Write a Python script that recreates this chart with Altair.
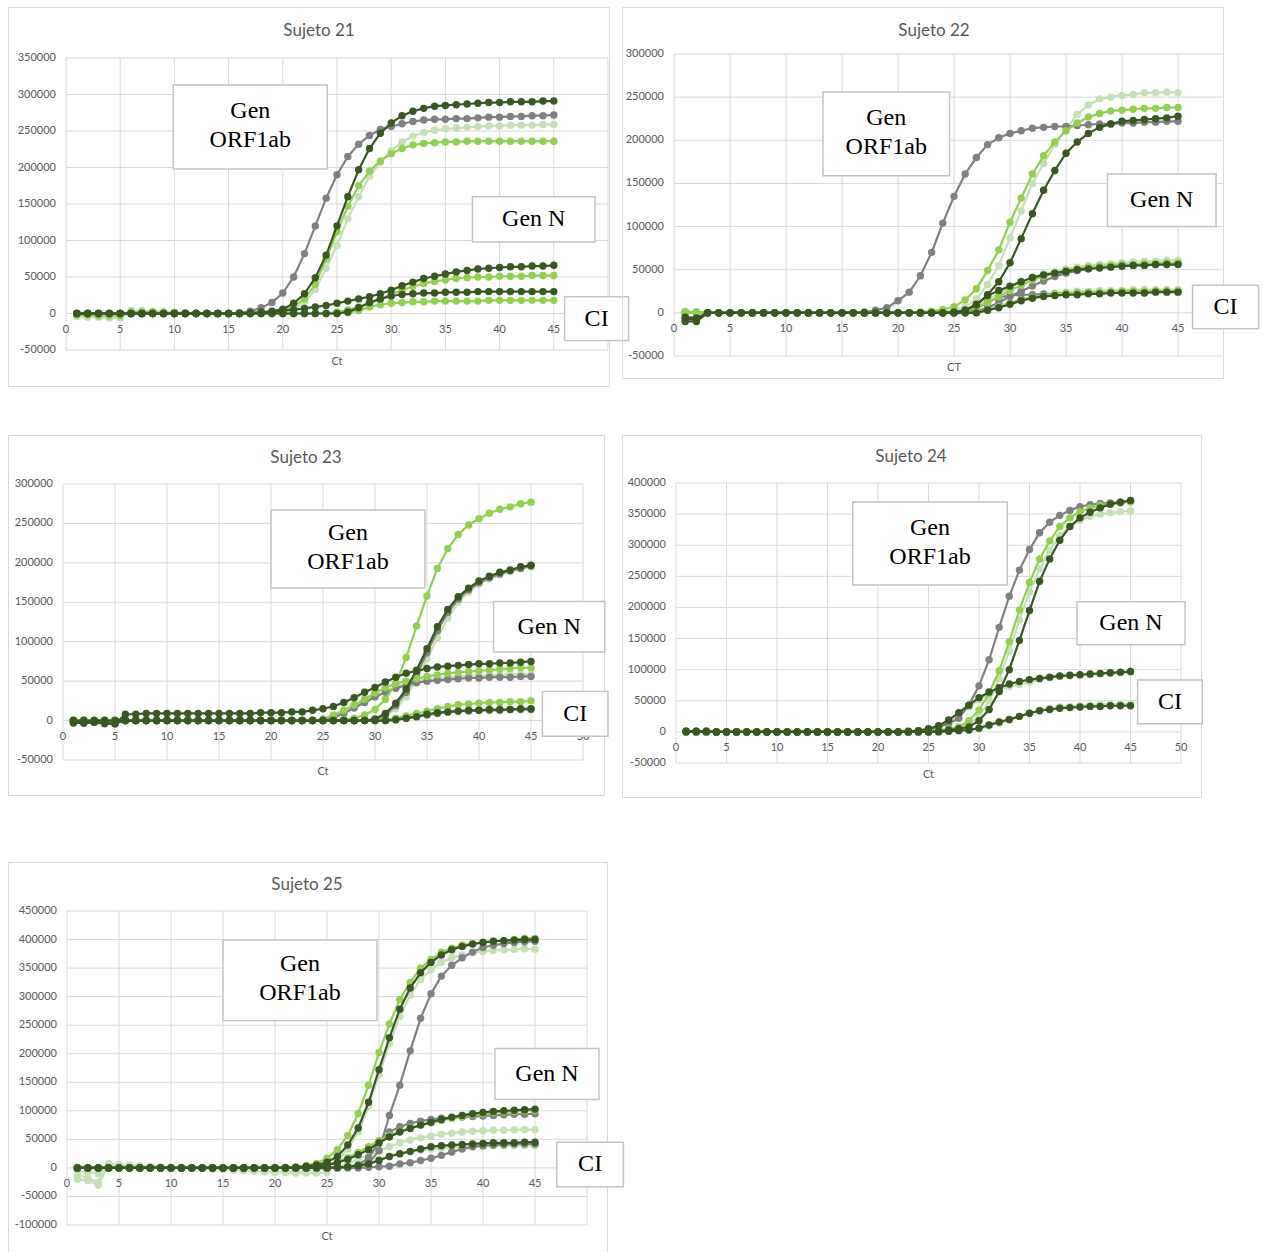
import altair as alt
import pandas as pd

# qPCR amplification curves: fluorescence (thousands of units) per cycle, 1..45
CYCLES = list(range(1, 46))

TONES = ["pale", "gray", "medium", "dark"]
TONE_COLORS = {"pale": "#c5e0b4", "gray": "#808080", "medium": "#92d050", "dark": "#385723"}

# ---------------- Sujeto 21 ----------------
S21_ORF_PALE = [-4, -5, -5, -6, -6, 4, 4, 3, 3, 2, 1, 1, 0, 0, 0,
                0, 0, 0, 0, 2, 7, 15, 33, 62, 93, 130, 160, 188, 207, 223,
                235, 243, 248, 251, 253, 254, 255, 256, 257, 257, 258, 258, 258, 259, 259]
S21_ORF_GRAY = [0, 0, 0, 0, 0, 0, 0, 0, 0, 0, 0, 0, 0, 0, 0,
                1, 3, 8, 15, 28, 50, 82, 120, 158, 190, 215, 232, 244, 252, 256,
                260, 263, 265, 266, 266, 267, 267, 268, 269, 269, 270, 270, 271, 271, 272]
S21_ORF_MED = [-2, -2, -3, -3, -3, 2, 2, 2, 1, 1, 0, 0, 0, 0, 0,
               0, 0, 0, 1, 4, 10, 20, 40, 75, 112, 147, 175, 195, 209, 219,
               226, 231, 233, 234, 235, 235, 236, 236, 236, 236, 236, 236, 236, 236, 236]
S21_ORF_DARK = [0, 0, 0, 0, 0, 0, 0, 0, 0, 0, 0, 0, 0, 0, 0,
                0, 1, 2, 3, 6, 14, 27, 49, 80, 120, 160, 197, 226, 247, 261,
                271, 277, 281, 284, 285, 286, 287, 288, 289, 289, 290, 290, 290, 291, 291]
S21_N_MED = [0, 0, 0, 0, 0, 0, 0, 0, 0, 0, 0, 0, 0, 0, 0,
             0, 0, 0, 0, 0, 0, 0, 0, 0, 2, 5, 9, 14, 20, 26,
             32, 37, 41, 44, 46, 48, 49, 50, 50, 51, 51, 51, 52, 52, 52]
S21_N_DARK = [0, 0, 0, 0, 0, 0, 0, 0, 0, 0, 0, 0, 0, 0, 0,
              0, 0, 1, 2, 4, 5, 7, 9, 11, 14, 17, 20, 23, 27, 32,
              38, 43, 48, 51, 54, 57, 59, 61, 62, 63, 64, 64, 65, 65, 66]
S21_CI_MED = [0, 0, 0, 0, 0, 0, 0, 0, 0, 0, 0, 0, 0, 0, 0,
              0, 0, 0, 0, 0, 0, 0, 0, 0, 0, 1, 4, 9, 12, 14,
              15, 16, 16, 17, 17, 17, 17, 17, 18, 18, 18, 18, 18, 18, 18]
S21_CI_DARK = [0, 0, 0, 0, 0, 0, 0, 0, 0, 0, 0, 0, 0, 0, 0,
               0, 0, 0, 0, 0, 0, 0, 0, 0, 0, 2, 8, 15, 20, 24,
               26, 27, 28, 28, 29, 29, 29, 30, 30, 30, 30, 30, 30, 30, 30]

# ---------------- Sujeto 22 ----------------
S22_ORF_PALE = [2, 1, 0, 0, 0, 0, 0, 0, 0, 0, 0, 0, 0, 0, 0,
                0, 0, 0, 0, 0, 0, 0, 0, 2, 3, 7, 16, 33, 55, 87,
                118, 150, 173, 195, 213, 230, 241, 248, 250, 252, 253, 255, 255, 256, 255]
S22_ORF_GRAY = [0, 0, 0, 0, 0, 0, 0, 0, 0, 0, 0, 0, 0, 0, 0,
                0, 1, 3, 6, 14, 24, 43, 70, 104, 135, 161, 180, 195, 203, 208,
                211, 214, 215, 216, 216, 217, 218, 219, 219, 220, 220, 221, 221, 222, 222]
S22_ORF_MED = [1, 1, 0, 0, 0, 0, 0, 0, 0, 0, 0, 0, 0, 0, 0,
               0, 0, 0, 0, 0, 0, 1, 2, 4, 7, 15, 28, 49, 73, 105,
               133, 161, 182, 198, 211, 220, 227, 231, 234, 235, 236, 237, 237, 238, 238]
S22_ORF_DARK = [-10, -10, 0, 0, 0, 0, 0, 0, 0, 0, 0, 0, 0, 0, 0,
                0, 0, 0, 0, 0, 0, 0, 0, 0, 1, 3, 9, 21, 36, 58,
                86, 115, 142, 165, 185, 198, 208, 215, 219, 222, 223, 224, 225, 226, 228]
S22_N_PALE = [1, 1, 0, 0, 0, 0, 0, 0, 0, 0, 0, 0, 0, 0, 0,
              0, 0, 0, 0, 0, 0, 0, 0, 0, 1, 3, 8, 15, 22, 30,
              36, 41, 45, 48, 51, 53, 55, 56, 57, 58, 59, 60, 60, 61, 61]
S22_N_GRAY = [0, 0, 0, 0, 0, 0, 0, 0, 0, 0, 0, 0, 0, 0, 0,
              0, 0, 0, 0, 0, 0, 0, 0, 0, 0, 0, 2, 6, 12, 19,
              25, 31, 37, 42, 46, 49, 51, 53, 54, 55, 55, 56, 56, 57, 57]
S22_N_MED = [0, 0, 0, 0, 0, 0, 0, 0, 0, 0, 0, 0, 0, 0, 0,
             0, 0, 0, 0, 0, 0, 0, 0, 0, 0, 2, 6, 12, 19, 26,
             32, 38, 42, 46, 49, 51, 53, 54, 55, 56, 56, 57, 57, 58, 58]
S22_N_DARK = [-5, -6, 0, 0, 0, 0, 0, 0, 0, 0, 0, 0, 0, 0, 0,
              0, 0, 0, 0, 0, 0, 0, 0, 0, 0, 3, 10, 20, 26, 31,
              36, 41, 44, 46, 48, 50, 51, 52, 53, 54, 55, 55, 56, 56, 56]
S22_CI_PALE = [0, 0, 0, 0, 0, 0, 0, 0, 0, 0, 0, 0, 0, 0, 0,
               0, 0, 0, 0, 0, 0, 0, 0, 0, 0, 0, 1, 4, 8, 12,
               16, 19, 21, 23, 24, 25, 25, 26, 26, 26, 27, 27, 27, 27, 27]
S22_CI_GRAY = [0, 0, 0, 0, 0, 0, 0, 0, 0, 0, 0, 0, 0, 0, 0,
               0, 0, 0, 0, 0, 0, 0, 0, 0, 0, 1, 5, 12, 18, 20,
               21, 21, 22, 22, 22, 23, 23, 23, 24, 24, 24, 24, 25, 25, 25]
S22_CI_MED = [0, 0, 0, 0, 0, 0, 0, 0, 0, 0, 0, 0, 0, 0, 0,
              0, 0, 0, 0, 0, 0, 0, 0, 0, 0, 0, 0, 3, 7, 11,
              15, 18, 20, 22, 23, 23, 24, 24, 24, 25, 25, 25, 25, 25, 25]
S22_CI_DARK = [-7, -8, 0, 0, 0, 0, 0, 0, 0, 0, 0, 0, 0, 0, 0,
               0, 0, 0, 0, 0, 0, 0, 0, 0, 0, 0, 0, 3, 6, 10,
               14, 17, 19, 20, 21, 21, 22, 22, 23, 23, 23, 23, 24, 24, 24]

# ---------------- Sujeto 23 ----------------
S23_ORF_PALE = [1, 1, 0, 1, 0, 0, 0, 0, 0, 0, 0, 0, 0, 0, 0,
                0, 0, 0, 0, 0, 0, 0, 0, 0, 0, 0, 0, 0, 0, 0,
                5, 15, 30, 52, 78, 105, 130, 150, 163, 173, 180, 185, 189, 193, 195]
S23_ORF_GRAY = [0, 0, 0, 0, 0, 0, 0, 0, 0, 0, 0, 0, 0, 0, 0,
                0, 0, 0, 0, 0, 0, 0, 0, 0, 0, 0, 0, 0, 0, 1,
                7, 19, 36, 58, 86, 114, 137, 154, 166, 175, 181, 186, 190, 193, 196]
S23_ORF_MED = [0, -1, 0, -1, -2, 0, 0, 0, 0, 0, 0, 0, 0, 0, 0,
               0, 0, 0, 0, 0, 0, 0, 0, 0, 0, 0, 1, 3, 7, 14,
               27, 47, 80, 120, 158, 193, 218, 236, 248, 256, 263, 268, 271, 275, 277]
S23_ORF_DARK = [-3, -3, -2, -4, -4, 0, 0, 0, 0, 0, 0, 0, 0, 0, 0,
                0, 0, 0, 0, 0, 0, 0, 0, 0, 0, 0, 0, 0, 0, 2,
                9, 22, 40, 64, 91, 119, 141, 157, 168, 177, 183, 188, 191, 195, 197]
S23_N_PALE = [0, 0, 0, 0, 0, 0, 0, 0, 0, 0, 0, 0, 0, 0, 0,
              0, 0, 0, 0, 0, 0, 0, 0, 0, 0, 5, 11, 18, 25, 31,
              37, 43, 47, 50, 52, 54, 55, 56, 57, 57, 58, 58, 59, 59, 59]
S23_N_GRAY = [0, 0, 0, 0, 0, 0, 0, 0, 0, 0, 0, 0, 0, 0, 0,
              0, 0, 0, 0, 0, 0, 0, 0, 0, 0, 4, 9, 16, 23, 30,
              36, 41, 45, 48, 50, 51, 52, 53, 54, 54, 55, 55, 55, 56, 56]
S23_N_MED = [0, 0, 0, 0, 0, 0, 0, 0, 0, 0, 0, 0, 0, 0, 0,
             0, 0, 0, 0, 0, 0, 0, 0, 0, 2, 7, 13, 20, 27, 35,
             42, 47, 50, 53, 56, 58, 60, 61, 62, 63, 64, 65, 66, 67, 67]
S23_N_DARK = [-2, -3, -2, -3, -4, 8, 8, 9, 9, 9, 9, 9, 9, 9, 9,
              9, 9, 9, 10, 10, 10, 11, 11, 13, 15, 18, 23, 29, 36, 42,
              49, 55, 60, 63, 66, 68, 69, 70, 71, 72, 72, 73, 73, 74, 75]
S23_CI_MED = [0, 0, 0, 0, 0, 0, 0, 0, 0, 0, 0, 0, 0, 0, 0,
              0, 0, 0, 0, 0, 0, 0, 0, 0, 0, 0, 0, 0, 0, 0,
              1, 3, 6, 9, 12, 15, 18, 20, 21, 22, 23, 23, 24, 24, 25]
S23_CI_GRAY = [0, 0, 0, 0, 0, 0, 0, 0, 0, 0, 0, 0, 0, 0, 0,
               0, 0, 0, 0, 0, 0, 0, 0, 0, 0, 0, 0, 0, 0, 0,
               0, 1, 3, 5, 7, 9, 11, 12, 12, 13, 13, 13, 14, 14, 14]
S23_CI_DARK = [0, 0, 0, 0, 0, 0, 0, 0, 0, 0, 0, 0, 0, 0, 0,
               0, 0, 0, 0, 0, 0, 0, 0, 0, 0, 0, 0, 0, 0, 0,
               0, 1, 3, 5, 8, 10, 11, 12, 13, 13, 14, 14, 14, 15, 15]

# ---------------- Sujeto 24 ----------------
S24_ORF_PALE = [0, 0, 0, 0, 0, 0, 0, 0, 0, 0, 0, 0, 0, 0, 0,
                0, 0, 0, 0, 0, 0, 0, 0, 0, 0, 2, 4, 7, 12, 25,
                50, 85, 130, 180, 225, 262, 292, 315, 330, 340, 346, 350, 352, 354, 355]
S24_ORF_GRAY = [0, 0, 0, 0, 0, 0, 0, 0, 0, 0, 0, 0, 0, 0, 0,
                0, 0, 0, 0, 0, 0, 0, 0, 2, 4, 8, 13, 22, 43, 74,
                116, 168, 218, 260, 293, 320, 337, 348, 356, 362, 365, 367, 368, 369, 370]
S24_ORF_MED = [0, 0, 0, 0, 0, 0, 0, 0, 0, 0, 0, 0, 0, 0, 0,
               0, 0, 0, 0, 0, 0, 0, 0, 1, 2, 3, 5, 8, 18, 35,
               62, 98, 145, 196, 240, 278, 307, 330, 344, 354, 360, 364, 366, 368, 370]
S24_ORF_DARK = [1, 1, 1, 0, 0, 0, 0, 0, 0, 0, 0, 0, 0, 0, 0,
                0, 0, 0, 0, 0, 0, 0, 0, 0, 0, 1, 3, 5, 8, 18,
                36, 65, 100, 147, 195, 242, 278, 308, 330, 344, 353, 360, 366, 369, 372]
S24_N_PALE = [0, 0, 0, 0, 0, 0, 0, 0, 0, 0, 0, 0, 0, 0, 0,
              0, 0, 0, 0, 0, 0, 0, 0, 0, 3, 7, 15, 27, 40, 52,
              61, 68, 73, 76, 80, 84, 87, 89, 90, 91, 92, 93, 94, 95, 96]
S24_N_DARK = [1, 1, 1, 0, 0, 0, 0, 0, 0, 0, 0, 0, 0, 0, 0,
              0, 0, 0, 0, 0, 0, 0, 1, 2, 5, 10, 19, 31, 43, 55,
              64, 71, 77, 81, 84, 86, 88, 90, 91, 92, 93, 94, 95, 96, 97]
S24_CI_PALE = [0, 0, 0, 0, 0, 0, 0, 0, 0, 0, 0, 0, 0, 0, 0,
               0, 0, 0, 0, 0, 0, 0, 0, 0, 0, 0, 1, 2, 3, 5,
               9, 14, 19, 25, 30, 35, 38, 40, 41, 42, 43, 44, 44, 45, 45]
S24_CI_DARK = [0, 0, 0, 0, 0, 0, 0, 0, 0, 0, 0, 0, 0, 0, 0,
               0, 0, 0, 0, 0, 0, 0, 0, 0, 0, 0, 1, 2, 3, 6,
               11, 16, 20, 25, 30, 34, 36, 38, 39, 40, 41, 41, 42, 42, 42]

# ---------------- Sujeto 25 ----------------
S25_ORF_PALE = [-12, -18, -25, 8, 6, 5, 4, 3, 2, 1, 0, 0, -1, -2, -3,
                -4, -5, -6, -7, -8, -8, -9, -9, -9, -8, 12, 33, 63, 108, 163,
                217, 265, 303, 330, 347, 360, 368, 373, 377, 379, 381, 382, 383, 384, 383]
S25_ORF_GRAY = [0, 0, 0, 0, 0, 0, 0, 0, 0, 0, 0, 0, 0, 0, 0,
                0, 0, 0, 0, 0, 0, 0, 0, 0, 0, 0, 1, 3, 8, 30,
                92, 145, 205, 262, 305, 336, 355, 368, 378, 386, 390, 393, 395, 396, 397]
S25_ORF_MED = [0, 0, 0, 0, 0, 0, 0, 0, 0, 0, 0, 0, 0, 0, 0,
               0, 0, 0, 0, 0, 1, 2, 4, 8, 17, 32, 57, 95, 145, 202,
               252, 295, 325, 350, 365, 378, 385, 390, 393, 395, 397, 398, 400, 402, 402]
S25_ORF_DARK = [0, 0, 0, 0, 0, 0, 0, 0, 0, 0, 0, 0, 0, 0, 0,
                0, 0, 0, 0, 0, 0, 1, 3, 5, 10, 20, 40, 70, 115, 172,
                228, 278, 315, 342, 360, 373, 382, 388, 392, 395, 397, 398, 399, 400, 400]
S25_N_PALE = [-20, -22, -30, 6, 5, 4, 3, 2, 1, 0, 0, 0, 0, 0, -2,
              -3, -4, -5, -5, -6, -6, -6, -5, -4, -2, 2, 8, 15, 22, 30,
              37, 44, 49, 53, 56, 59, 61, 63, 64, 65, 66, 66, 67, 67, 67]
S25_N_GRAY = [0, 0, 0, 0, 0, 0, 0, 0, 0, 0, 0, 0, 0, 0, 0,
              0, 0, 0, 0, 0, 0, 0, 0, 0, 0, 0, 1, 5, 18, 45,
              63, 72, 78, 82, 85, 87, 88, 89, 90, 91, 92, 93, 94, 94, 95]
S25_N_MED = [0, 0, 0, 0, 0, 0, 0, 0, 0, 0, 0, 0, 0, 0, 0,
             0, 0, 0, 0, 0, 0, 0, 0, 3, 6, 11, 18, 27, 37, 48,
             57, 64, 70, 75, 79, 83, 87, 90, 93, 95, 97, 98, 99, 100, 101]
S25_N_DARK = [0, 0, 0, 0, 0, 0, 0, 0, 0, 0, 0, 0, 0, 0, 0,
              0, 0, 0, 0, 0, 0, 0, 0, 2, 5, 9, 15, 23, 32, 44,
              54, 63, 69, 75, 80, 85, 89, 92, 95, 97, 99, 100, 101, 102, 103]
S25_CI_PALE = [-5, -8, -10, 3, 2, 1, 0, 0, 0, 0, 0, 0, 0, 0, 0,
               0, 0, 0, 0, 0, 0, 0, 0, 0, 0, 1, 3, 6, 10, 15,
               20, 24, 28, 31, 33, 35, 36, 37, 38, 38, 39, 39, 39, 39, 39]
S25_CI_GRAY = [0, 0, 0, 0, 0, 0, 0, 0, 0, 0, 0, 0, 0, 0, 0,
               0, 0, 0, 0, 0, 0, 0, 0, 0, 0, 0, 0, 0, 1, 2,
               3, 7, 9, 13, 17, 22, 28, 33, 37, 39, 40, 41, 42, 42, 42]
S25_CI_DARK = [0, 0, 0, 0, 0, 0, 0, 0, 0, 0, 0, 0, 0, 0, 0,
               0, 0, 0, 0, 0, 0, 0, 0, 0, 0, 1, 2, 4, 7, 13,
               20, 25, 29, 33, 37, 39, 40, 41, 42, 43, 44, 44, 44, 45, 45]

# axis tick values (gridlines) and tick labels
X_TICKS = [0, 5, 10, 15, 20, 25, 30, 35, 40, 45, 50]
X_LABELS_TO_45 = [0, 5, 10, 15, 20, 25, 30, 35, 40, 45]
Y_TICKS_21 = [-50000, 0, 50000, 100000, 150000, 200000, 250000, 300000, 350000]
Y_TICKS_22 = [-50000, 0, 50000, 100000, 150000, 200000, 250000, 300000]
Y_TICKS_24 = [-50000, 0, 50000, 100000, 150000, 200000, 250000, 300000, 350000, 400000]
Y_TICKS_25 = [-100000, -50000, 0, 50000, 100000, 150000, 200000, 250000, 300000,
              350000, 400000, 450000]

GRID = "#d9d9d9"
TEXT = "#595959"
SANS = "Lato"
SERIF = "Liberation Serif"

PANELS = [
    dict(title="Sujeto 21", xtitle="Ct", width=601, height=379,
         left=58, right=600, top=51, bottom=343, ymin=-50000, ymax=350000,
         xticks=X_LABELS_TO_45, yticks=Y_TICKS_21, xgrid_end=50, title_pos=(311, 24),
         boxes=[("Gen\nORF1ab", 9.9, 24.1, 313000, 198000),
                ("Gen N", 37.5, 48.8, 160000, 98000),
                ("CI", 46.0, 51.9, 23000, -37000)],
         series=[("ORF1ab", "pale", S21_ORF_PALE), ("ORF1ab", "gray", S21_ORF_GRAY),
                 ("N", "medium", S21_N_MED), ("CI", "medium", S21_CI_MED),
                 ("ORF1ab", "medium", S21_ORF_MED), ("N", "dark", S21_N_DARK),
                 ("CI", "dark", S21_CI_DARK), ("ORF1ab", "dark", S21_ORF_DARK)]),
    dict(title="Sujeto 22", xtitle="CT", width=601, height=371,
         left=52, right=612, top=47, bottom=349, ymin=-50000, ymax=300000,
         xticks=X_LABELS_TO_45, yticks=Y_TICKS_22, xgrid_end=49, title_pos=(312, 24),
         boxes=[("Gen\nORF1ab", 13.3, 24.6, 256000, 159000),
                ("Gen N", 38.7, 48.4, 161000, 100000),
                ("CI", 46.3, 52.2, 32000, -18500)],
         series=[("ORF1ab", "pale", S22_ORF_PALE), ("N", "pale", S22_N_PALE),
                 ("CI", "pale", S22_CI_PALE), ("ORF1ab", "gray", S22_ORF_GRAY),
                 ("N", "gray", S22_N_GRAY), ("CI", "gray", S22_CI_GRAY),
                 ("ORF1ab", "medium", S22_ORF_MED), ("N", "medium", S22_N_MED),
                 ("CI", "medium", S22_CI_MED), ("ORF1ab", "dark", S22_ORF_DARK),
                 ("N", "dark", S22_N_DARK), ("CI", "dark", S22_CI_DARK)]),
    dict(title="Sujeto 23", xtitle="Ct", width=596, height=360,
         left=55, right=575, top=49, bottom=325, ymin=-50000, ymax=300000,
         xticks=X_TICKS, yticks=Y_TICKS_22, xgrid_end=50, title_pos=(298, 23),
         boxes=[("Gen\nORF1ab", 20.0, 34.8, 267000, 168000),
                ("Gen N", 41.4, 52.1, 151000, 87000),
                ("CI", 46.1, 52.4, 37000, -20000)],
         series=[("ORF1ab", "pale", S23_ORF_PALE), ("N", "pale", S23_N_PALE),
                 ("ORF1ab", "gray", S23_ORF_GRAY), ("N", "gray", S23_N_GRAY),
                 ("CI", "gray", S23_CI_GRAY), ("ORF1ab", "medium", S23_ORF_MED),
                 ("N", "medium", S23_N_MED), ("CI", "medium", S23_CI_MED),
                 ("ORF1ab", "dark", S23_ORF_DARK), ("N", "dark", S23_N_DARK),
                 ("CI", "dark", S23_CI_DARK)]),
    dict(title="Sujeto 24", xtitle="Ct", width=579, height=362,
         left=54, right=559, top=48, bottom=328, ymin=-50000, ymax=400000,
         xticks=X_TICKS, yticks=Y_TICKS_24, xgrid_end=50, title_pos=(289, 22),
         boxes=[("Gen\nORF1ab", 17.5, 32.8, 369500, 236000),
                ("Gen N", 39.7, 50.4, 209000, 140000),
                ("CI", 45.7, 52.1, 83500, 13000)],
         series=[("ORF1ab", "pale", S24_ORF_PALE), ("N", "pale", S24_N_PALE),
                 ("CI", "pale", S24_CI_PALE), ("ORF1ab", "gray", S24_ORF_GRAY),
                 ("ORF1ab", "medium", S24_ORF_MED), ("ORF1ab", "dark", S24_ORF_DARK),
                 ("N", "dark", S24_N_DARK), ("CI", "dark", S24_CI_DARK)]),
    dict(title="Sujeto 25", xtitle="Ct", width=599, height=395,
         left=59, right=579, top=49, bottom=363, ymin=-100000, ymax=450000,
         xticks=X_LABELS_TO_45, yticks=Y_TICKS_25, xgrid_end=50, title_pos=(299, 23),
         boxes=[("Gen\nORF1ab", 15.0, 29.8, 399000, 258000),
                ("Gen N", 41.15, 51.15, 209000, 120000),
                ("CI", 47.1, 53.5, 45000, -33000)],
         series=[("ORF1ab", "pale", S25_ORF_PALE), ("N", "pale", S25_N_PALE),
                 ("CI", "pale", S25_CI_PALE), ("ORF1ab", "gray", S25_ORF_GRAY),
                 ("N", "gray", S25_N_GRAY), ("CI", "gray", S25_CI_GRAY),
                 ("ORF1ab", "medium", S25_ORF_MED), ("N", "medium", S25_N_MED),
                 ("ORF1ab", "dark", S25_ORF_DARK), ("N", "dark", S25_N_DARK),
                 ("CI", "dark", S25_CI_DARK)]),
]


def build_panel(p):
    xs = alt.Scale(domain=[0, 50], range=[p["left"], p["right"]], nice=False, zero=False)
    ys = alt.Scale(domain=[p["ymin"], p["ymax"]], range=[p["bottom"], p["top"]],
                   nice=False, zero=False)

    def xy(xf, yf):
        return dict(x=alt.X(xf, scale=xs, axis=None), y=alt.Y(yf, scale=ys, axis=None))

    # gridlines
    vgrid = pd.DataFrame({"ct": [t for t in X_TICKS if t <= p["xgrid_end"]]})
    vgrid["lo"] = p["ymin"]
    vgrid["hi"] = p["ymax"]
    hgrid = pd.DataFrame({"v": p["yticks"]})
    hgrid["a"] = 0
    hgrid["b"] = p["xgrid_end"]

    layers = [
        alt.Chart(vgrid).mark_rule(color=GRID, strokeWidth=1).encode(
            **xy("ct:Q", "lo:Q"), y2="hi:Q"),
        alt.Chart(hgrid).mark_rule(color=GRID, strokeWidth=1).encode(
            **xy("a:Q", "v:Q"), x2="b:Q"),
    ]

    # tick labels and axis title
    xlab = pd.DataFrame({"ct": p["xticks"]})
    xlab["v"] = 0
    xlab["txt"] = [str(t) for t in p["xticks"]]
    ylab = pd.DataFrame({"v": p["yticks"]})
    ylab["ct"] = 0
    ylab["txt"] = [str(t) for t in p["yticks"]]
    xtitle = pd.DataFrame({"ct": [25], "v": [p["ymin"]], "txt": [p["xtitle"]]})
    layers += [
        alt.Chart(xlab).mark_text(font=SANS, fontSize=11, color=TEXT, align="center",
                                  baseline="middle", dy=16).encode(
            **xy("ct:Q", "v:Q"), text="txt:N"),
        alt.Chart(ylab).mark_text(font=SANS, fontSize=11, color=TEXT, align="right",
                                  baseline="middle", dx=-10).encode(
            **xy("ct:Q", "v:Q"), text="txt:N"),
        alt.Chart(xtitle).mark_text(font=SANS, fontSize=11, color=TEXT, align="center",
                                    baseline="middle", dy=12).encode(
            **xy("ct:Q", "v:Q"), text="txt:N"),
    ]

    # amplification curves, one layer pair per colour so the darker series sit on top
    rows = []
    for gene, tone, vals in p["series"]:
        assert len(vals) == len(CYCLES)
        for c, v in zip(CYCLES, vals):
            rows.append({"ct": c, "rfu": v * 1000, "gene": gene, "tone": tone})
    curves = pd.DataFrame(rows)
    for tone in TONES:
        sub = curves[curves["tone"] == tone]
        if sub.empty:
            continue
        layers.append(alt.Chart(sub).mark_line(color=TONE_COLORS[tone], strokeWidth=2.2).encode(
            **xy("ct:Q", "rfu:Q"), detail="gene:N"))
        layers.append(alt.Chart(sub).mark_circle(color=TONE_COLORS[tone], size=55,
                                                 opacity=1).encode(
            **xy("ct:Q", "rfu:Q"), detail="gene:N"))

    # gene annotation boxes
    boxes = pd.DataFrame(p["boxes"], columns=["label", "x1", "x2", "y1", "y2"])
    boxes["cx"] = (boxes["x1"] + boxes["x2"]) / 2
    boxes["cy"] = (boxes["y1"] + boxes["y2"]) / 2
    layers.append(alt.Chart(boxes).mark_rect(fill="white", stroke="#c4c4c4",
                                             strokeWidth=1.5).encode(
        **xy("x1:Q", "y1:Q"), x2="x2:Q", y2="y2:Q"))
    two_line = boxes[boxes["label"].str.contains("\n")]
    one_line = boxes[~boxes["label"].str.contains("\n")]
    layers.append(alt.Chart(two_line).mark_text(font=SERIF, fontSize=24, color="black",
                                                lineBreak="\n", lineHeight=29,
                                                align="center", baseline="middle",
                                                dy=-16).encode(
        **xy("cx:Q", "cy:Q"), text="label:N"))
    layers.append(alt.Chart(one_line).mark_text(font=SERIF, fontSize=24, color="black",
                                                align="center", baseline="middle").encode(
        **xy("cx:Q", "cy:Q"), text="label:N"))

    # chart title inside the frame
    tx, ty = p["title_pos"]
    layers.append(alt.Chart(pd.DataFrame({"t": [p["title"]]})).mark_text(
        font=SANS, fontSize=17, color=TEXT, align="center", baseline="middle").encode(
        x=alt.value(tx), y=alt.value(ty), text="t:N"))

    return alt.layer(*layers).properties(width=p["width"], height=p["height"])


p21, p22, p23, p24, p25 = [build_panel(p) for p in PANELS]

row1 = alt.hconcat(p21, p22, spacing=13, bounds="flush")
row2 = alt.hconcat(p23, p24, spacing=18, bounds="flush")
upper = alt.vconcat(row1, row2, spacing=47)

chart = alt.vconcat(upper, p25, spacing=63).properties(
    padding={"left": 7, "top": 6, "right": 0, "bottom": 0},
    background="white",
).configure_view(stroke=GRID, strokeWidth=1)

chart.save("out.html", embed_options={"renderer": "svg", "actions": False})
